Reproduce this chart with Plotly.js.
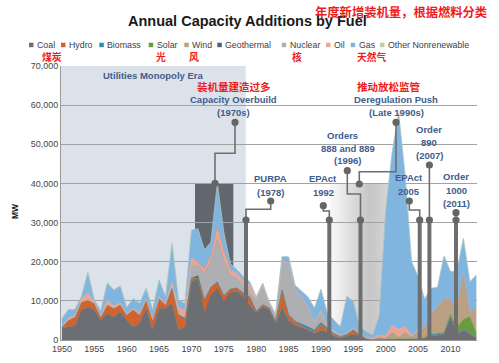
<!DOCTYPE html>
<html><head><meta charset="utf-8">
<script src="https://cdn.plot.ly/plotly-3.0.1.min.js"></script>
<style>html,body{margin:0;padding:0;background:#fff}</style>
</head><body><div id="chart" style="width:499px;height:363px"></div>
<script>
// ---------------- DATA (MW added per year) ----------------
const years = [1950,1951,1952,1953,1954,1955,1956,1957,1958,1959,
1960,1961,1962,1963,1964,1965,1966,1967,1968,1969,
1970,1971,1972,1973,1974,1975,1976,1977,1978,1979,
1980,1981,1982,1983,1984,1985,1986,1987,1988,1989,
1990,1991,1992,1993,1994,1995,1996,1997,1998,1999,
2000,2001,2002,2003,2004,2005,2006,2007,2008,2009,
2010,2011,2012,2013,2014];

const coal = [3000,3400,3600,7700,8300,7700,5100,6800,5900,7200,
5100,3400,4300,8100,2600,8100,8100,9400,2600,3400,
15000,15500,6800,11500,13000,9800,12000,12500,11000,9000,
7000,8500,7800,4300,8500,5000,3800,3200,2600,1700,
2500,2100,1000,500,1000,1500,1000,300,200,200,
200,300,300,300,300,300,500,1200,1200,1500,
5800,1500,2500,1500,500];

const hydro = [300,1700,2300,2000,1900,1700,800,2200,2200,1800,
1300,4400,2100,2100,2500,2500,900,3800,3800,2100,
800,300,3400,2000,1800,1500,1000,800,1000,2000,
400,500,400,500,4300,1200,600,400,300,200,
1200,600,300,200,300,1000,300,100,0,0,
0,0,0,0,0,0,0,0,0,0,
0,0,0,0,0];

const biomass = [0,0,0,0,0,0,0,0,0,0,
0,0,0,0,0,0,0,0,0,0,
0,0,0,0,0,0,0,0,0,0,
0,0,0,0,0,300,400,500,500,500,
600,400,300,200,200,100,0,0,0,0,
0,0,0,0,0,0,100,300,300,300,
300,300,300,300,300];

const solar = [0,0,0,0,0,0,0,0,0,0,
0,0,0,0,0,0,0,0,0,0,
0,0,0,0,0,0,0,0,0,0,
0,0,0,0,0,0,0,0,0,0,
0,0,0,0,0,0,0,0,0,0,
0,0,0,0,0,0,0,0,200,200,
500,1500,2500,4200,1000];

const wind = [0,0,0,0,0,0,0,0,0,0,
0,0,0,0,0,0,0,0,0,0,
0,0,0,0,0,0,0,0,0,0,
0,0,0,0,0,0,0,0,0,0,
0,0,0,0,0,0,0,0,0,500,
100,1600,400,1600,400,2000,2500,5000,6800,8500,
3700,5000,11700,1000,6800];

const geothermal = [0,0,0,0,0,0,0,0,0,0,
0,0,0,0,0,0,0,0,0,0,
0,600,0,0,0,0,0,0,0,0,
0,0,0,0,0,0,0,0,0,200,
200,0,0,0,0,0,0,0,0,0,
0,0,0,0,0,0,0,0,0,0,
0,0,0,0,0];

const nuclear = [0,0,0,0,0,0,0,0,0,0,
0,0,0,0,0,0,0,500,300,500,
3500,2500,6800,6500,11000,9000,3500,2700,2000,1500,
3000,5000,1200,1500,7200,13100,8200,6900,5100,2100,
2700,400,500,200,200,200,500,0,0,0,
0,0,0,0,0,0,0,0,0,0,
0,0,0,0,0];

const oil = [300,500,400,800,1800,400,300,1200,600,500,
300,400,400,400,300,500,400,1200,1500,1700,
1500,1000,1200,1500,3200,2500,1500,1000,1200,1500,
300,300,200,100,200,0,0,0,0,0,
200,200,200,100,100,200,0,200,300,600,
800,1800,2000,1500,500,200,100,100,100,0,
0,0,0,0,0];

const gas = [1900,2200,1500,600,5300,400,1300,4400,4100,4300,
1600,2400,2600,2600,2300,4200,1700,9800,2000,1700,
7300,8500,4800,3500,11000,4700,1500,1000,1000,900,
300,200,200,200,1100,1700,1000,1500,2500,3500,
5600,3100,2800,2200,9400,6800,1600,1500,800,4900,
32000,44300,55300,38600,18800,13700,7300,6600,4900,11000,
7200,9300,9000,7900,8000];

const otherNonrenewable = [0,0,0,0,0,0,0,0,0,0,
0,0,0,0,0,0,0,0,0,0,
0,0,0,0,0,0,0,0,0,0,
0,0,0,0,0,0,0,0,0,0,
0,0,0,0,0,0,0,0,0,0,
0,0,0,0,0,0,0,0,0,0,
0,0,0,0,0];

const seriesNames = ["Coal","Hydro","Biomass","Solar","Wind","Geothermal","Nuclear","Oil","Gas","Other Nonrenewable"];
const seriesData  = [coal,hydro,biomass,solar,wind,geothermal,nuclear,oil,gas,otherNonrenewable];
const cnLabels = ["煤炭","","","光","风","","核","","天然气",""];
const xTickVals = [1950,1955,1960,1965,1970,1975,1980,1985,1990,1995,2000,2005,2010];
const yTickVals = [0,10000,20000,30000,40000,50000,60000,70000];

// ---------------- STYLE ----------------
const colors = ["#6b6e73","#d4622b","#2a8bbd","#6b9a3f","#bba183","#4f6079","#aeafb2","#eda592","#7fb5de","#c3ccaa"];
const LAT = "Liberation Sans, Arial, sans-serif";
const CJK = "Noto Sans CJK SC, sans-serif";
const BLUE = "#415d8c", RED = "#ee1c1c", LINEC = "#6e6e6e";

// plot geometry (pixels)
const L=61, R=477, T=66, B=340;
const X0=1949.85, X1=2014.1, YMAX=70000;
const dx = px => X0 + (px-L)*(X1-X0)/(R-L);
const dy = py => (B-py)*YMAX/(B-T);
const ppx = px => (px-L)/(R-L);
const ppy = py => (B-py)/(B-T);

const traces = seriesNames.map((n,i)=>({
  x: years, y: seriesData[i], name: n, type:'scatter', mode:'lines',
  stackgroup:'one', line:{width:0.5, color:colors[i]}, fillcolor:colors[i],
  showlegend:false, hoverinfo:'skip'
}));

const shapes = [];
// Utilities monopoly era shading
shapes.push({type:'rect', xref:'x', yref:'y', x0:X0, x1:dx(245.7), y0:0, y1:YMAX,
  fillcolor:'#dce2ea', line:{width:0}, layer:'below'});
// capacity overbuild box
shapes.push({type:'rect', xref:'x', yref:'y', x0:dx(195), x1:dx(233.3), y0:0, y1:dy(183.3),
  fillcolor:'#62676f', line:{width:0}, layer:'below'});
// gradient box (late 1990s)
const NS = 32, gx0 = 329, gx1 = 394;
for (let k=0;k<NS;k++){
  const t=(k+0.5)/NS;
  const g = t<0.62 ? 250-(250-198)*(t/0.62) : 198+(218-198)*((t-0.62)/0.38);
  const gi = Math.round(g);
  shapes.push({type:'rect', xref:'x', yref:'y',
    x0:dx(gx0+(gx1-gx0)*k/NS), x1:dx(gx0+(gx1-gx0)*(k+1.3)/NS), y0:0, y1:dy(183.5),
    fillcolor:`rgb(${gi},${gi},${gi})`, line:{width:0}, layer:'below'});
}
// policy vertical bars
[246,329.3,360.5,419.7,429.4,456].forEach(px=>{
  shapes.push({type:'line', xref:'x', yref:'y', x0:dx(px), x1:dx(px), y0:0, y1:dy(220),
    line:{color:LINEC, width:4}, layer:'above'});
});
// connectors
const paths = [
  [[246,220],[246,209.3],[270.7,209.3],[270.7,201]],
  [[323.3,205.7],[323.3,211],[329.3,211],[329.3,220]],
  [[347.3,170.7],[347.3,194],[360.5,194],[360.5,220]],
  [[396,122.3],[396,171.7],[359.3,171.7],[359.3,184]],
  [[409.3,201],[409.3,210],[419.7,210],[419.7,220]],
  [[429.4,165],[429.4,220]],
  [[456,212.7],[456,220]],
  [[235,122.3],[235,153.3],[215,153.3],[215,183.3]]
];
paths.forEach(p=>{
  const d = p.map((q,i)=>(i?'L':'M')+dx(q[0])+','+dy(q[1])).join(' ');
  shapes.push({type:'path', xref:'x', yref:'y', path:d, line:{color:LINEC, width:1.6}, layer:'above'});
});
// dots
const dots = [[246,220],[329.3,220],[360.5,220],[419.7,220],[429.4,220],[456,220],
  [270.7,201],[323.3,205.7],[347.3,170.7],[396,122.3],[359.3,184],[409.3,201],[429.4,165],[456,212.7],
  [235,122.3],[215,183.3]];
dots.forEach(q=>{
  shapes.push({type:'circle', xref:'x', yref:'y', xsizemode:'pixel', ysizemode:'pixel',
    xanchor:dx(q[0]), yanchor:dy(q[1]), x0:-3.6, x1:3.6, y0:-3.6, y1:3.6,
    fillcolor:'#666666', line:{width:0}, layer:'above'});
});
// legend squares
const legX = [29,61,99.3,148.7,184.3,217.3,281.7,326,350.7,380];
legX.forEach((mx,i)=>{
  shapes.push({type:'rect', xref:'paper', yref:'paper', x0:ppx(mx), x1:ppx(mx+4.5),
    y0:ppy(47.2), y1:ppy(42.7), fillcolor:colors[i], line:{width:0}});
});

const annotations = [];
function ann(text, px, py, size, color, family, extra){
  annotations.push(Object.assign({xref:'paper', yref:'paper', x:ppx(px), y:ppy(py),
    xanchor:'center', yanchor:'middle', text:text, showarrow:false, borderpad:0,
    font:{size:size, color:color, family:family}}, extra||{}));
}
// title
ann('<b>Annual Capacity Additions by Fuel</b>', 247.5, 21.5, 14.5, '#1a1a1a', LAT);
ann('<b>年度新增装机量，根据燃料分类</b>', 401, 12, 12.3, RED, CJK);
// legend text
seriesNames.forEach((n,i)=>{
  ann(n, legX[i]+7, 44.6, 8.8, '#404040', LAT, {xanchor:'left'});
});
const cnX = [52,0,0,161,193.5,0,296.7,0,372,0];
cnLabels.forEach((c,i)=>{ if(c) ann('<b>'+c+'</b>', cnX[i], 56.6, 9.8, RED, CJK); });
// MW axis label
ann('<b>MW</b>', 15, 211, 8.5, '#1a1a1a', LAT, {textangle:-90});
// callout texts
const callouts = [
  ['Utilities Monopoly Era',153,76],
  ['Capacity Overbuild',233,99.8],['(1970s)',233,112.5],
  ['PURPA',270.3,178.3],['(1978)',270,192.3],
  ['EPAct',323.3,178.3],['1992',323.3,192.3],
  ['Orders',342.5,135],['888 and 889',347.5,148.3],['(1996)',347.3,160.7],
  ['Deregulation Push',396,99.8],['(Late 1990s)',396,112.5],
  ['Order',429,129.3],['890',429,142.7],['(2007)',429,155.7],
  ['EPAct',409.3,177.7],['2005',409.3,191],
  ['Order',456,176.7],['1000',456,190],['(2011)',456,203.3]
];
callouts.forEach(c=>ann('<b>'+c[0]+'</b>', c[1], c[2], 9.5, BLUE, LAT));
ann('<b>装机量建造过多</b>', 234, 86.8, 10.5, RED, CJK);
ann('<b>推动放松监管</b>', 388, 86.5, 10.5, RED, CJK);

const layout = {
  width:499, height:363,
  margin:{l:L, r:499-R, t:T, b:363-B, pad:0},
  paper_bgcolor:'#ffffff', plot_bgcolor:'#ffffff',
  showlegend:false,
  xaxis:{range:[X0,X1], tickvals:xTickVals, ticktext:xTickVals.map(String),
    showgrid:false, zeroline:false, showline:true, linecolor:'#9a9a9a', linewidth:1,
    ticks:'', tickfont:{size:9, color:'#444444', family:LAT}},
  yaxis:{range:[0,YMAX], tickvals:yTickVals, ticktext:yTickVals.map(v=>v.toLocaleString('en-US')),
    showgrid:true, gridcolor:'#a2a2a2', gridwidth:1, zeroline:false,
    showline:true, linecolor:'#9a9a9a', linewidth:1, ticks:'',
    tickfont:{size:9, color:'#444444', family:LAT}},
  shapes:shapes, annotations:annotations
};
Plotly.newPlot('chart', traces, layout, {displayModeBar:false, staticPlot:true});
</script></body></html>
